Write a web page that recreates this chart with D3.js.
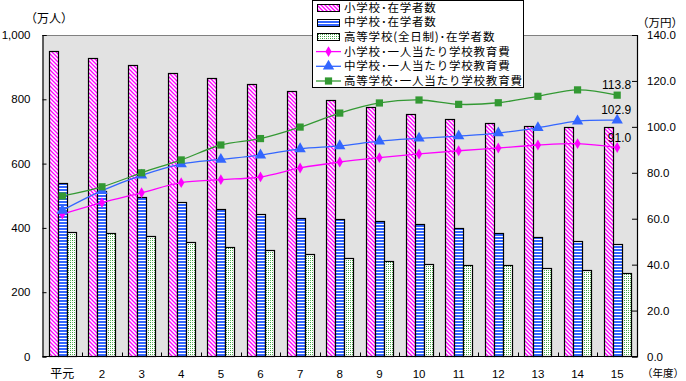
<!DOCTYPE html>
<html><head><meta charset="utf-8">
<script src="https://cdn.jsdelivr.net/npm/d3@7"></script>
<style>body{margin:0;background:#fff}svg{display:block}</style>
</head><body>
<svg id="c" width="686" height="381"></svg>
<script>
const categories = ["平元","2","3","4","5","6","7","8","9","10","11","12","13","14","15"];
const elemStudents = [949,927,906,881,865,847,826,798,776,753,738,725,716,714,714];
const juniorStudents = [539,514,495,480,458,442,430,427,421,411,399,383,371,358,349];
const highStudents = [387,383,374,355,340,331,318,306,297,288,284,284,274,268,259];
const elemCost = [62.0,67.0,71.3,75.7,77.0,78.2,82.1,84.7,86.6,88.2,89.6,90.8,92.1,92.7,91.0];
const juniorCost = [63.6,72.2,78.9,83.8,85.8,87.7,90.4,91.7,93.8,95.0,96.0,97.3,99.6,102.5,102.9];
const highCost = [69.9,73.9,80.0,85.6,92.1,94.9,99.9,106.0,110.4,111.7,109.8,110.5,113.3,116.1,113.8];
const leftTicks = [0,200,400,600,800,1000];
const rightTicks = [0,20,40,60,80,100,120,140];
const barNames = ["小学校･在学者数","中学校･在学者数","高等学校(全日制)･在学者数"];
const lineNames = ["小学校･一人当たり学校教育費","中学校･一人当たり学校教育費","高等学校･一人当たり学校教育費"];

const svg = d3.select("#c");
const L = 42.5, R = 637, T = 35, B = 356.5;
const fontNum = "'Liberation Sans', Arial, sans-serif";
const fontJP = "'Noto Sans CJK JP', sans-serif";

const defs = svg.append("defs");
const p1 = defs.append("pattern").attr("id","pPink").attr("patternUnits","userSpaceOnUse").attr("width",4).attr("height",4);
p1.append("rect").attr("width",4).attr("height",4).attr("fill","#fff");
p1.append("path").attr("d","M-1,-1 L5,5 M-1,3 L1,5 M3,-1 L5,1").attr("stroke","#ff00ff").attr("stroke-width",1.3);
const p2 = defs.append("pattern").attr("id","pBlue").attr("patternUnits","userSpaceOnUse").attr("width",4).attr("height",3);
p2.append("rect").attr("width",4).attr("height",3).attr("fill","#fff");
p2.append("rect").attr("y",0).attr("width",4).attr("height",2).attr("fill","#3366ff");
const p3 = defs.append("pattern").attr("id","pGreen").attr("patternUnits","userSpaceOnUse").attr("width",4).attr("height",4);
p3.append("rect").attr("width",4).attr("height",4).attr("fill","#fff");
p3.append("rect").attr("x",0).attr("y",0).attr("width",1).attr("height",1).attr("fill","#339933");
p3.append("rect").attr("x",2).attr("y",2).attr("width",1).attr("height",1).attr("fill","#339933");
p3.append("rect").attr("x",0).attr("y",2).attr("width",1).attr("height",1).attr("fill","#66bb66");
p3.append("rect").attr("x",2).attr("y",0).attr("width",1).attr("height",1).attr("fill","#66bb66");

const fills = ["url(#pPink)","url(#pBlue)","url(#pGreen)"];
const lineColors = ["#ff00ff","#3366ff","#339933"];

svg.append("rect").attr("x",L).attr("y",T).attr("width",R-L).attr("height",B-T).attr("fill","#e2e2e2");
svg.append("line").attr("x1",L).attr("x2",R).attr("y1",T+0.5).attr("y2",T+0.5).attr("stroke","#808080");

const x = d3.scaleBand().domain(categories).range([L,R]).paddingInner(0.318).paddingOuter(0.159);
const xs = d3.scaleBand().domain([0,1,2]).range([0,x.bandwidth()]);
const yL = d3.scaleLinear().domain([0,1000]).range([B,T]);
const yR = d3.scaleLinear().domain([0,140]).range([B,T]);

const barSeries = [elemStudents, juniorStudents, highStudents];
barSeries.forEach((vals,si)=>{
  svg.append("g").selectAll("rect").data(vals).join("rect")
    .attr("x",(d,i)=>Math.round(x(categories[i])+xs(si))+0.5)
    .attr("y",d=>Math.round(yL(d))+0.5)
    .attr("width",Math.round(xs.bandwidth()))
    .attr("height",d=>B-Math.round(yL(d))-0.5)
    .attr("fill",fills[si]).attr("stroke","#000").attr("stroke-width",1.2);
});

const axL = svg.append("g").attr("transform",`translate(${L},0)`)
  .call(d3.axisLeft(yL).tickValues(leftTicks).tickSize(-4).tickPadding(12).tickFormat(d3.format(",")));
const axR = svg.append("g").attr("transform",`translate(${R},0)`)
  .call(d3.axisRight(yR).tickValues(rightTicks).tickSize(-5).tickPadding(10).tickFormat(d3.format(".1f")));
const xTickPos = d3.range(1,categories.length).map(i=>x.step()*i + L);
const axB = svg.append("g").attr("transform",`translate(0,${B})`)
  .call(d3.axisBottom(x).tickSize(0).tickPadding(13));
svg.append("g").selectAll("line").data(xTickPos).join("line")
  .attr("x1",d=>Math.round(d)+0.5).attr("x2",d=>Math.round(d)+0.5).attr("y1",B).attr("y2",B-4).attr("stroke","#000");
[axL,axR,axB].forEach(a=>{
  a.select(".domain").attr("stroke","#000").attr("stroke-width",1.2);
  a.selectAll(".tick line").attr("stroke","#000");
  a.selectAll("text").attr("font-family",fontNum).attr("font-size",11.5).attr("fill","#000");
});
axB.select(".domain").attr("d",`M${L},0H${R}`);
axR.selectAll("text").attr("text-anchor","start");
axB.selectAll("text").filter(d=>d==="平元").attr("font-family",fontJP).attr("font-size",12);

const lineSeries = [elemCost, juniorCost, highCost];
const symbols = [d3.symbolDiamond, d3.symbolTriangle, d3.symbolSquare];
const symSizes = [34, 56, 52];
lineSeries.forEach((vals,si)=>{
  const line = d3.line().x((d,i)=>x(categories[i])+x.bandwidth()/2).y(d=>yR(d)).curve(d3.curveCatmullRom.alpha(0.5));
  svg.append("path").datum(vals).attr("d",line).attr("fill","none").attr("stroke",lineColors[si]).attr("stroke-width",1.3);
  svg.append("g").selectAll("path").data(vals).join("path")
    .attr("transform",(d,i)=>`translate(${x(categories[i])+x.bandwidth()/2},${yR(d)})`)
    .attr("d",d3.symbol(symbols[si],symSizes[si])).attr("fill",lineColors[si]);
});

lineSeries.forEach((vals,si)=>{
  const i = vals.length-1;
  svg.append("text").attr("x",x(categories[i])+x.bandwidth()/2+14).attr("y",yR(vals[i])-6)
    .attr("text-anchor","end").attr("font-family",fontNum).attr("font-size",12).attr("fill","#000")
    .text(vals[i].toFixed(1));
});

svg.append("text").attr("x",25).attr("y",23).attr("font-family",fontJP).attr("font-size",12).text("（万人）");
svg.append("text").attr("x",637).attr("y",27).attr("font-family",fontJP).attr("font-size",11.5).text("（万円）");
svg.append("text").attr("x",642).attr("y",377).attr("font-family",fontJP).attr("font-size",10.5).text("（年度）");

const lg = svg.append("g");
const lx = 312.5, ly = 0.5, rowH = 14.7;
lg.append("rect").attr("x",lx).attr("y",ly).attr("width",211).attr("height",87).attr("fill","#fff").attr("stroke","#000");
barNames.forEach((n,i)=>{
  const cy = 7.5 + i*rowH;
  lg.append("rect").attr("x",317.5).attr("y",Math.round(cy-3.5)+0.5).attr("width",22).attr("height",7)
    .attr("fill",fills[i]).attr("stroke","#000");
  lg.append("text").attr("x",344).attr("y",cy+4).attr("font-family",fontJP).attr("font-size",11.5)
    .attr("letter-spacing",0.8).text(n);
});
lineNames.forEach((n,i)=>{
  const cy = 7.5 + (i+3)*rowH;
  lg.append("line").attr("x1",316).attr("x2",341).attr("y1",cy).attr("y2",cy).attr("stroke",lineColors[i]).attr("stroke-width",1.3);
  lg.append("path").attr("transform",`translate(328.5,${cy})`).attr("d",d3.symbol(symbols[i],symSizes[i])).attr("fill",lineColors[i]);
  lg.append("text").attr("x",344).attr("y",cy+4).attr("font-family",fontJP).attr("font-size",11.5)
    .attr("letter-spacing",0.8).text(n);
});
</script>
</body></html>
